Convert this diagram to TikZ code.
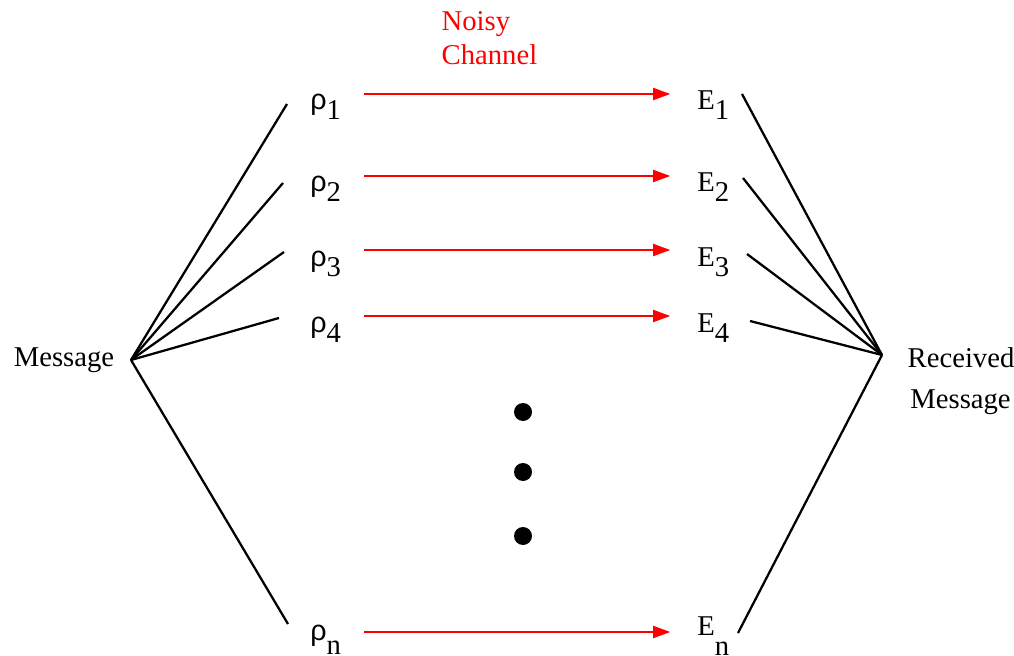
\documentclass[tikz,border=0pt]{standalone}
\usepackage{fontspec}
\setmainfont{Liberation Serif}
\newfontfamily\rhofont{Liberation Sans}
\usetikzlibrary{arrows.meta}

\tikzset{
    ch text/.style={font=\fontsize{21.5}{25}\selectfont},
    ch label/.style={ch text, anchor=west, inner sep=0pt,
                     text height=24pt, text depth=0pt},
    ch last/.style={ch label, text height=#1},
    ch line/.style={line width=1.7pt, black},
    ch arrow/.style={-{Triangle[length=13pt,width=9pt]}, line width=1.7pt,
                     red, shorten <=17pt, shorten >=20pt},
    ch dot/.style={circle, fill=black, inner sep=0pt, minimum size=13.5pt},
}
\newcommand{\lowsub}[2][7.5pt]{\raisebox{-#1}{#2}}
\newcommand{\rholbl}[2][7.5pt]{{\rhofont ρ}\lowsub[#1]{#2}}
\newcommand{\elbl}[2][7.5pt]{E\lowsub[#1]{#2}}

\begin{document}
\begin{tikzpicture}[x=0.75pt, y=-0.75pt]
    \useasboundingbox (0,0) rectangle (1014,656);
    % end texts
    \node[ch text] (msg) at (64,360) {Message};
    \node[ch text, anchor=west, align=left] (rcv) at (903,381)
        {Received\\[6pt]\hspace{2pt}Message};
    \node[ch text, red, anchor=west, align=left] (noisy) at (437,38)
        {Noisy\\[0pt]Channel};
    % sent states
    \node[ch label] (r1) at (310,94)  {\rholbl{1}};
    \node[ch label] (r2) at (310,176) {\rholbl{2}};
    \node[ch label] (r3) at (310,250) {\rholbl{3}};
    \node[ch label] (r4) at (310,316) {\rholbl{4}};
    \node[ch last=12pt] (rn) at (310,632) {\rholbl[11pt]{n}};
    % measurements
    \node[ch label] (e1) at (697,94)  {\elbl{1}};
    \node[ch label] (e2) at (697,176) {\elbl{2}};
    \node[ch label] (e3) at (697,250) {\elbl{3}};
    \node[ch label] (e4) at (697,316) {\elbl{4}};
    \node[ch last=4.5pt] (en) at (697,632) {\elbl[15pt]{n}};
    % channel arrows
    \draw[ch arrow] (r1.east) -- (e1.west);
    \draw[ch arrow] (r2.east) -- (e2.west);
    \draw[ch arrow] (r3.east) -- (e3.west);
    \draw[ch arrow] (r4.east) -- (e4.west);
    \draw[ch arrow] (rn.east) -- (en.west);
    % vertical ellipsis
    \node[ch dot] (d1) at (523,412) {};
    \node[ch dot] (d2) at (523,472) {};
    \node[ch dot] (d3) at (523,536) {};
    % fan-out and fan-in
    \coordinate (lhub) at (131,360);
    \coordinate (rhub) at (882,355);
    \coordinate (l1) at (287,104);
    \coordinate (l2) at (283,183);
    \coordinate (l3) at (284,252);
    \coordinate (l4) at (279,318);
    \coordinate (ln) at (288,624);
    \coordinate (k1) at (742,94);
    \coordinate (k2) at (743,178);
    \coordinate (k3) at (747,254);
    \coordinate (k4) at (750,321);
    \coordinate (kn) at (738,633);
    \foreach \p in {l1,l2,l3,l4,ln}
        \draw[ch line] (lhub) -- (\p);
    \foreach \p in {k1,k2,k3,k4,kn}
        \draw[ch line] (\p) -- (rhub);
\end{tikzpicture}
\end{document}
